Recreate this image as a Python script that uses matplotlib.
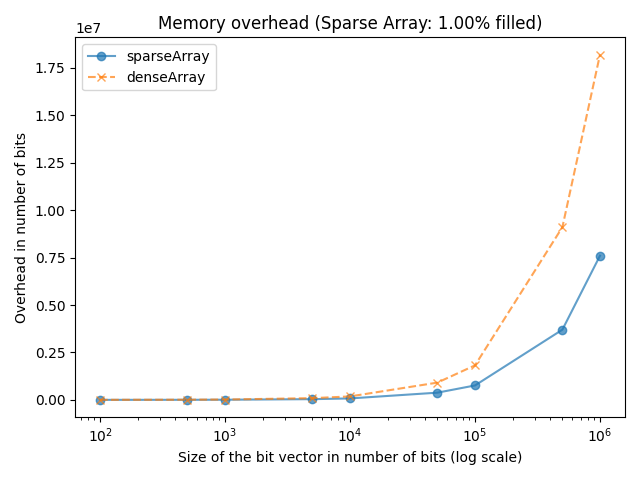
import matplotlib
matplotlib.use("Agg")
import matplotlib.pyplot as plt

sizes = [100, 500, 1000, 5000, 10000, 50000, 100000, 500000, 1000000]
sparse_overhead = [760, 3800, 7600, 38000, 76000, 380000, 760000, 3700000, 7600000]
dense_overhead = [1820, 9100, 18200, 91000, 182000, 910000, 1820000, 9100000, 18200000]

fig, ax = plt.subplots(figsize=(6.4, 4.8), dpi=100)
ax.plot(sizes, sparse_overhead, marker="o", linestyle="-", alpha=0.7, label="sparseArray")
ax.plot(sizes, dense_overhead, marker="x", linestyle="--", alpha=0.7, label="denseArray")
ax.set_xscale("log")
ax.set_title("Memory overhead (Sparse Array: 1.00% filled)")
ax.set_xlabel("Size of the bit vector in number of bits (log scale)")
ax.set_ylabel("Overhead in number of bits")
ax.legend(loc="upper left")
fig.tight_layout()
fig.savefig("out.png")
